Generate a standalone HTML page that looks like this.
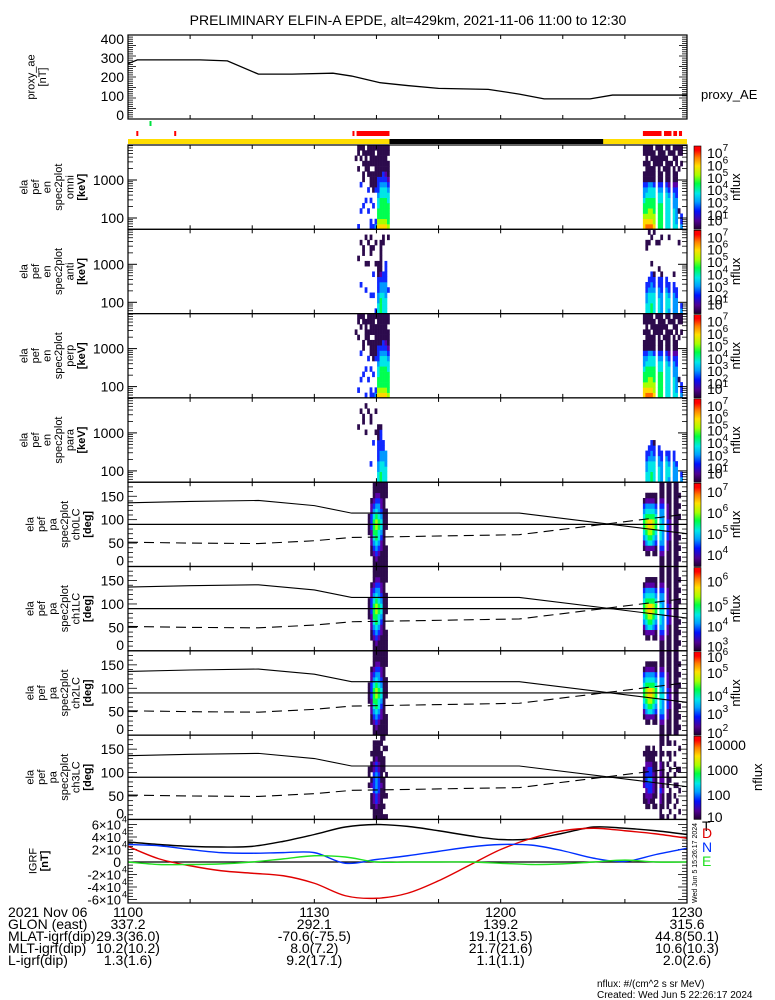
<!DOCTYPE html>
<html><head><meta charset="utf-8"><style>
html,body{margin:0;padding:0;background:#fff;}
svg{display:block;font-family:"Liberation Sans",sans-serif;}
</style></head><body>
<svg id="chart" width="775" height="1000" viewBox="0 0 775 1000" xmlns="http://www.w3.org/2000/svg">
<rect x="0" y="0" width="775" height="1000" fill="#fff"/>
<text x="408" y="25" font-size="14" text-anchor="middle">PRELIMINARY ELFIN-A EPDE, alt=429km, 2021-11-06 11:00 to 12:30</text>
<g id="g"></g>
</svg>
<script>
// ---------- data ----------
const aeTimes = [0,1.5,11.6,16,21,26.4,33,36,40.6,45,50,58,63,67,74.4,78,90];
const aeValues = [270,290,290,285,215,215,220,205,170,155,140,135,110,85,85,105,105];
const igrfTimes = [0,5,10,15,20,25,30,35,40,45,50,55,60,65,70,75,80,85,90];
const igrfT = [32,28,25,24,25,33,44,56,60,57,50,42,36,37,46,56,54,50,44];
const igrfD = [25,5,-6,-14,-18,-22,-34,-54,-58,-50,-30,-5,20,38,50,54,50,45,38];
const igrfN = [28,26,20,15,14,15,15,-2,4,10,17,24,28,27,18,6,1,12,22];
const igrfE = [0,-4,-4,-3,0,5,10,8,0,0,0,0,-2,-4,-3,0,3,0,0];
const lcTimes = [0,10,21,30,36,63,90];
const lcSolid = [136,139,141,130,114,114,70];
const lcDashed = [52,50,49,55,62,68,112];
const redFlagTimes = [1.5,7.6,36.3];
const redBlocks = [[36.8,42.1],[82.9,85.9],[86.3,87.5],[87.8,88.4],[88.7,89.2]];
const darkBlock = [42.1,76.5];
const burst1Start = 36.5, burst2Start = 82.9, colStep = 0.4;
const omniB1 = ["0000000000000100","3000000000010011","0003000030000101","0000300001101011","0000030000011110","0003000300111011","3300030011101111","3000300111101111","4300000311111101","8766554333111111","8766665543111111","8766665543311111","8766665543211111","7666655432111011"];
const omniB2 = ["8876654431101011","9876665431111111","9877665541111011","9877665541110111","8776665531111110","0000000000001101","6666655431111111","6666655431101111","0000000000010110","5555555431111101","5555554321111011","0000000000001010","5555444321110111","5444443321101101","0001000000010011","4330000000001011"];
const antB1 = ["0000000000000000","0000000000100000","0000030000000100","0000000000011000","0000300001000010","0000000001000100","0003000000011010","0003000300001000","3000000001000100","5544333111000000","6665443211111100","5555443300000110","5554443333000000","0000300000000010"];
const antB2 = ["0000000000000000","5544330000001100","5555433000000101","6655443301000010","5555433100000001","0000000000000100","5554433010000100","4444333100000010","0000000000000000","5555433000000000","4554330000000010","0000000000000000","4444330100000000","4443300000000000","0000000000000100","4300000000000000"];
const perpB1 = ["0000000000001000","0300000000010011","0003000030000101","0000300001100011","3000030000011110","0003000300111011","3300030011101111","3000300111101111","4300000311111101","8766554333111111","8766665543111111","8766665543311111","8766665543211111","7666655432111011"];
const perpB2 = ["8876654431101011","9876665431111111","9877665541111011","9877665541110111","8776665531111110","0000000000001101","6666655431111111","6666655431101111","0000000000010110","5555555431111101","5555554321111011","0000000000001010","5555444321110111","5444443321101101","0001000000010011","4330000000001011"];
const paraB1 = ["0000000000000000","0000000000100000","0000000000000100","0000000000011000","0000000001000010","0000000000000100","0003000000011000","0000000300000000","0000000001000100","5544333311100000","6655443333100000","5555443300000000","5554440000000000","0000000000000000"];
const paraB2 = ["0000000000000000","5544330000000000","5555433000000000","6655443300000000","5555433100000000","0000000000000000","5554433000000000","4444330000000000","0000000000000000","5555430000000000","4554330000000000","0000000000000000","4444330000000000","4443000000000000","0000000000000000","4300000000000000"];
const paB1Start = 38.6;
const paB1 = ["0000001111000000","0011222333221000","1123456665432111","1234566776543211","1123455665443211","1112234554322111","1111111111111111","1111000111100111"];
const paB2 = ["0001245665431000","0012456776542100","0012567886542100","0002567886542100","0012456776542100","0011345665431100","0000000000000000","1123455554432111","1123444544432111","0000000000000000","1112233332221111","1111122221111111","0000000000000000","1111111111111111","1111111111111111","0101010001010100"];
const pa3B1 = ["0000001011000000","0011102101101000","1112233332211110","1123344443321110","1112233332211110","1111112111111011","1010111101110101","1000100010000100"];
const pa3B2 = ["0001102111001000","0011223332211100","0012233433211100","0001233433211000","0011122221111100","0010111111101000","0000000000000000","1112232222211111","1011121211101011","0000000000000000","1011101110101011","0101110101011010","0000000000000000","1010101010101010","0001001001000000","0100010001000100"];
const xTickLabels = ["1100","1130","1200","1230"];
const glonVals = ["337.2","292.1","139.2","315.6"];
const mlatVals = ["29.3(36.0)","-70.6(-75.5)","19.1(13.5)","44.8(50.1)"];
const mltVals = ["10.2(10.2)","8.0(7.2)","21.7(21.6)","10.6(10.3)"];
const lVals = ["1.3(1.6)","9.2(17.1)","1.1(1.1)","2.0(2.6)"];

// ---------- helpers ----------
const NS = "http://www.w3.org/2000/svg";
const G = document.getElementById('g');
const X0 = 128, X1 = 687;
function xT(t){ return X0 + t/90*(X1-X0); }
function mk(tag, attrs, parent){ const e=document.createElementNS(NS,tag); for(const k in attrs) e.setAttribute(k,attrs[k]); (parent||G).appendChild(e); return e; }
function txt(x,y,s,size,anchor,parent){ const e=mk('text',{x:x,y:y,'font-size':size||13,'text-anchor':anchor||'start'},parent); e.textContent=s; return e; }
function smoothPath(pts){
  let d='M'+pts[0][0]+','+pts[0][1];
  for(let i=0;i<pts.length-1;i++){
    const p0=pts[Math.max(0,i-1)],p1=pts[i],p2=pts[i+1],p3=pts[Math.min(pts.length-1,i+2)];
    const c1=[p1[0]+(p2[0]-p0[0])/6,p1[1]+(p2[1]-p0[1])/6], c2=[p2[0]-(p3[0]-p1[0])/6,p2[1]-(p3[1]-p1[1])/6];
    d+=` C${c1[0]},${c1[1]} ${c2[0]},${c2[1]} ${p2[0]},${p2[1]}`;
  }
  return d;
}
const PAL = ["none","#2c0a4c","#5a00a8","#1028ff","#0098ff","#00e6e6","#00ff50","#a8ff00","#ffd800","#ff6a00"];

function frame(top,bot,name){
  const r = mk('rect',{x:X0,y:top,width:X1-X0,height:bot-top,fill:'none',stroke:'#000','stroke-width':1.2});
  
  
  for(let i=1;i<9;i++){ const x=xT(i*10); mk('line',{x1:x,y1:bot,x2:x,y2:bot-4,stroke:'#000'}); mk('line',{x1:x,y1:top,x2:x,y2:top+4,stroke:'#000'}); }
}
function ylabel(cx,cy,lines,bold){
  const g = mk('g',{transform:`translate(${cx},${cy}) rotate(-90)`});
  
  
  lines.forEach((s,i)=>{ const t=txt(0,(i-(lines.length-1)/2)*11.5+4,s,11,'middle',g); if(bold&&i==lines.length-1) t.setAttribute('font-weight','bold'); });
}
function colorbar(top,bot,labels,nfx){
  const id='cb'+Math.round(top);
  const d = mk('defs',{});
  const lg = mk('linearGradient',{id:id,x1:0,y1:1,x2:0,y2:0},d);
  [[0,'#200030'],[0.1,'#500090'],[0.22,'#0010ff'],[0.33,'#00a0ff'],[0.43,'#00e8e8'],[0.55,'#00ff40'],[0.65,'#a8ff00'],[0.76,'#ffe000'],[0.86,'#ff8000'],[0.95,'#ff0000'],[1,'#ff0000']].forEach(s=>mk('stop',{offset:s[0],'stop-color':s[1]},lg));
  const r = mk('rect',{x:694,y:top+1,width:7,height:bot-top-1,fill:`url(#${id})`,stroke:'#000','stroke-width':0.6});
  
  
  labels.forEach(l=>{
    const t = txt(707,l[1],l[0],14,'start');
    if(l[2]){ const ts=mk('tspan',{dy:-7,'font-size':10},t); ts.textContent=l[2]; }
  });
  const g = mk('g',{transform:`translate(${nfx||740},${(top+bot)/2}) rotate(-90)`});
  txt(0,0,'nflux',13,'middle',g);
}
function drawCols(cols, t0, step, top, bot, name){
  const h=(bot-top)/16, w=step/90*(X1-X0)+0.3;
  cols.forEach((c,i)=>{
    for(let b=0;b<16;b++){ const lv=+c[b]; if(!lv) continue;
      const r = mk('rect',{x:xT(t0+i*step),y:bot-(b+1)*h,width:w,height:h+0.3,fill:PAL[lv]});
      
      
    }
  });
}
function rightMinor(top,bot,n){ for(let i=1;i<n;i++){ const y=top+(bot-top)*i/n; mk('line',{x1:X1,y1:y,x2:X1-(i%5==0?8:5),y2:y,stroke:'#000','stroke-width':0.8}); mk('line',{x1:X0,y1:y,x2:X0+(i%5==0?8:5),y2:y,stroke:'#000','stroke-width':0.8}); } }

// ---------- AE panel ----------
(function(){
  const top=35,bot=119; const yV=v=>115-v*0.19;
  rightMinor(top,bot,40);
  frame(top,bot,'proxy-ae-panel');
  [0,100,200,300,400].forEach(v=>txt(124,yV(v)+5,String(v),14,'end'));
  const p = mk('polyline',{points:aeTimes.map((t,i)=>xT(t)+','+yV(aeValues[i])).join(' '),fill:'none',stroke:'#000','stroke-width':1.3});
  
  
  ylabel(36,77,['proxy_ae','[nT]']);
  txt(701,99,'proxy_AE',13,'start');
})();

// ---------- flag bars ----------
(function(){
  const g = mk('rect',{x:149.5,y:121,width:2,height:5,fill:'#00e040'});
  
  
  redFlagTimes.forEach(t=>{ const r=mk('rect',{x:xT(t)-1,y:131,width:2,height:5,fill:'#f00'});   });
  redBlocks.forEach(b=>{ const r=mk('rect',{x:xT(b[0]),y:131,width:xT(b[1])-xT(b[0]),height:5,fill:'#f00'});   });
  const y=mk('rect',{x:X0,y:139,width:X1-X0,height:5,fill:'#ffdd00'});
  
  
  const k=mk('rect',{x:xT(darkBlock[0]),y:139,width:xT(darkBlock[1])-xT(darkBlock[0]),height:5,fill:'#000'});
  
  
})();

// ---------- energy spectrograms ----------
const P = 84.3;
const specDefs = [['omni',omniB1,omniB2],['anti',antB1,antB2],['perp',perpB1,perpB2],['para',paraB1,paraB2]];
const specLbl = [['10','7'],['10','6'],['10','5'],['10','4'],['10','3'],['10','2'],['10','1']];
specDefs.forEach((d,k)=>{
  const top=145+k*P, bot=top+P;
  drawCols(d[1],burst1Start,colStep,top,bot,'spectrogram-cell');
  drawCols(d[2],burst2Start,colStep,top,bot,'spectrogram-cell');
  const yE = e=>top+35+(3-Math.log10(e))*38;
  [60,70,80,90,200,300,400,500,600,700,800,900,2000,3000,4000,5000,6000,7000,8000].forEach(e=>{ const y=yE(e); if(y>top&&y<bot){ mk('line',{x1:X0,y1:y,x2:X0+5,y2:y,stroke:'#000','stroke-width':0.8}); mk('line',{x1:X1,y1:y,x2:X1-5,y2:y,stroke:'#000','stroke-width':0.8}); } });
  [100,1000].forEach(e=>{ const y=yE(e); mk('line',{x1:X0,y1:y,x2:X0+9,y2:y,stroke:'#000'}); mk('line',{x1:X1,y1:y,x2:X1-9,y2:y,stroke:'#000'}); txt(124,y+5,String(e),14,'end'); });
  frame(top,bot,'spectrogram-'+d[0]);
  ylabel(52,top+P/2,['ela','pef','en','spec2plot',d[0],'[keV]'],true);
  colorbar(top,bot,specLbl.map((l,i)=>[l[0],top+13+i*12.4-(i==6?7:0),l[1]]));
});

// ---------- pitch angle spectrograms ----------
const paNames = ['ch0LC','ch1LC','ch2LC','ch3LC'];
const paCB = [
  [['10',10,'7'],['10',31,'6'],['10',52,'5'],['10',73,'4']],
  [['10',15,'6'],['10',40,'5'],['10',60,'4'],['10',80,'3']],
  [['10',6,'6'],['10',22,'5'],['10',45,'4'],['10',63,'3'],['10',82,'2']],
  [['10000',10],['1000',35],['100',60],['10',82]]
];
paNames.forEach((nm,k)=>{
  const top=145+(k+4)*P, bot=top+P;
  const yA = a=>bot-a/180*(bot-top);
  const b1 = k==3?pa3B1:paB1, b2 = k==3?pa3B2:paB2;
  drawCols(b1,paB1Start,colStep,top,bot,'pitch-angle-cell');
  drawCols(b2,burst2Start,colStep*0.95,top,bot,'pitch-angle-cell');
  for(let a=10;a<180;a+=10){ const y=yA(a); const L=a%50==0?9:5; mk('line',{x1:X0,y1:y,x2:X0+L,y2:y,stroke:'#000','stroke-width':0.8}); mk('line',{x1:X1,y1:y,x2:X1-L,y2:y,stroke:'#000','stroke-width':0.8}); }
  [0,50,100,150].forEach(a=>txt(124,Math.min(yA(a)+5,bot-1),String(a),14,'end'));
  const h=mk('line',{x1:X0,y1:yA(90),x2:X1,y2:yA(90),stroke:'#000','stroke-width':1.2});
  
  
  const s=mk('polyline',{points:lcTimes.map((t,i)=>xT(t)+','+yA(lcSolid[i])).join(' '),fill:'none',stroke:'#000','stroke-width':1.1});
  
  
  const ds=mk('polyline',{points:lcTimes.map((t,i)=>xT(t)+','+yA(lcDashed[i])).join(' '),fill:'none',stroke:'#000','stroke-width':1.1,'stroke-dasharray':'10,6'});
  
  
  frame(top,bot,'pitch-angle-'+nm);
  ylabel(58,top+P/2,['ela','pef','pa','spec2plot',nm,'[deg]'],true);
  colorbar(top,bot,paCB[k].map(l=>[l[0],top+l[1]+5,l[2]]), k==3?762:740);
});

// ---------- IGRF ----------
(function(){
  const top=819.5, bot=903; const yV=v=>862-v*0.625;
  for(let v=-60;v<=60;v+=5){ const y=yV(v); if(y<=top||y>=bot) continue; const L=v%20==0?9:5; mk('line',{x1:X0,y1:y,x2:X0+L,y2:y,stroke:'#000','stroke-width':0.8}); mk('line',{x1:X1,y1:y,x2:X1-L,y2:y,stroke:'#000','stroke-width':0.8}); }
  const z=mk('line',{x1:X0,y1:yV(0),x2:X1,y2:yV(0),stroke:'#000','stroke-width':1.2});
  
  
  [['6',60],['4',40],['2',20],['-2',-20],['-4',-40],['-6',-60]].forEach(l=>{ txt(121,yV(l[1])+5,l[0]+'\u00d710',13,'end'); });
  [60,40,20,-20,-40,-60].forEach(v=>txt(127,yV(v)-2,'4',9,'end'));
  txt(121,yV(0)+5,'0',14,'end');
  const series=[[igrfT,'#000','igrf-t-line'],[igrfD,'#e00000','igrf-d-line'],[igrfN,'#0030ff','igrf-n-line'],[igrfE,'#20e020','igrf-e-line']];
  series.forEach(s=>{ const p=mk('path',{d:smoothPath(igrfTimes.map((t,i)=>[xT(t),yV(s[0][i])])),fill:'none',stroke:s[1],'stroke-width':1.4});   });
  frame(top,bot,'igrf-panel');
  ylabel(38,861,['IGRF','[nT]'],true);
  [['T','#000',831],['D','#e00000',838],['N','#0030ff',852],['E','#20e020',866]].forEach(l=>{ const t=txt(702,l[2],l[0],14,'start'); t.setAttribute('fill',l[1]);   });
  const g=mk('g',{transform:'translate(697,903) rotate(-90)'});
  txt(0,0,'Wed Jun  5 15:26:17 2024',7,'start',g);
})();

// ---------- bottom annotation ----------
(function(){
  const rows=[['2021 Nov 06',xTickLabels,917],['GLON (east)',glonVals,929],['MLAT-igrf(dip)',mlatVals,941],['MLT-igrf(dip)',mltVals,953],['L-igrf(dip)',lVals,965]];
  rows.forEach(r=>{ txt(8,r[2],r[0],14,'start'); r[1].forEach((v,i)=>{ const t=txt(xT(i*30),r[2],v,14,'middle');   }); });
  txt(597,987,'nflux: #/(cm^2 s sr MeV)',10,'start');
  txt(597,998,'Created: Wed Jun  5 22:26:17 2024',10,'start');
})();
</script>
</body></html>
